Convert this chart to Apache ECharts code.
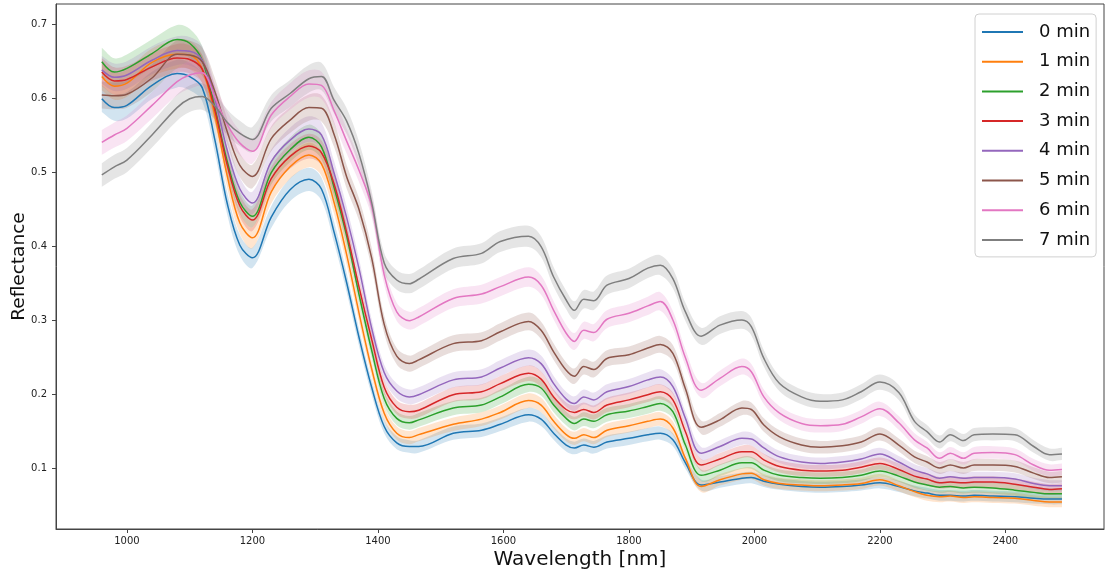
<!DOCTYPE html>
<html>
<head>
<meta charset="utf-8">
<script src="https://cdn.jsdelivr.net/npm/echarts@6/dist/echarts.min.js"></script>
<style>
  html, body { margin: 0; padding: 0; background: #fff; }
  #chart { width: 1107px; height: 574px; }
</style>
</head>
<body>
<div id="chart"></div>
<script>
// wavelengths (nm)
var wavelengths = [960, 980, 1000, 1040, 1080, 1100, 1120, 1140, 1160, 1180,
  1200, 1230, 1260, 1290, 1310, 1330, 1350, 1370, 1390, 1410,
  1430, 1450, 1465, 1520, 1565, 1595, 1640, 1660, 1680, 1700,
  1713, 1728, 1744, 1765, 1800, 1830, 1850, 1870, 1890, 1915,
  1945, 1980, 1995, 2015, 2040, 2075, 2105, 2140, 2170, 2200,
  2230, 2255, 2275, 2295, 2312, 2333, 2350, 2380, 2415, 2445,
  2470, 2490];

var names = ['0 min', '1 min', '2 min', '3 min', '4 min', '5 min', '6 min', '7 min'];
var colors = ['#1f77b4', '#ff7f0e', '#2ca02c', '#d62728', '#9467bd', '#8c564b', '#e377c2', '#7f7f7f'];

var min0 = [0.600, 0.588, 0.591, 0.618, 0.634, 0.630, 0.615, 0.545, 0.458, 0.402,
  0.385, 0.440, 0.477, 0.491, 0.478, 0.420, 0.352, 0.277, 0.210, 0.157,
  0.135, 0.130, 0.130, 0.148, 0.152, 0.160, 0.173, 0.167, 0.148, 0.132,
  0.128, 0.132, 0.129, 0.136, 0.141, 0.146, 0.148, 0.139, 0.108, 0.078,
  0.082, 0.087, 0.088, 0.083, 0.079, 0.076, 0.075, 0.076, 0.078, 0.081,
  0.076, 0.070, 0.067, 0.064, 0.064, 0.063, 0.064, 0.063, 0.062, 0.060,
  0.059, 0.059];
var min1 = [0.630, 0.617, 0.621, 0.649, 0.660, 0.659, 0.640, 0.578, 0.495, 0.432,
  0.412, 0.474, 0.508, 0.524, 0.512, 0.460, 0.390, 0.310, 0.235, 0.175,
  0.148, 0.142, 0.146, 0.160, 0.167, 0.176, 0.192, 0.186, 0.164, 0.146,
  0.141, 0.146, 0.142, 0.152, 0.158, 0.164, 0.167, 0.155, 0.114, 0.076,
  0.085, 0.093, 0.094, 0.085, 0.080, 0.078, 0.077, 0.078, 0.080, 0.085,
  0.077, 0.069, 0.064, 0.062, 0.063, 0.061, 0.062, 0.061, 0.060, 0.057,
  0.055, 0.055];
var min2 = [0.650, 0.636, 0.641, 0.661, 0.680, 0.675, 0.652, 0.588, 0.515, 0.460,
  0.441, 0.500, 0.531, 0.548, 0.535, 0.480, 0.415, 0.335, 0.260, 0.195,
  0.168, 0.162, 0.166, 0.182, 0.186, 0.197, 0.214, 0.209, 0.186, 0.168,
  0.161, 0.167, 0.164, 0.173, 0.178, 0.184, 0.188, 0.177, 0.132, 0.091,
  0.098, 0.108, 0.108, 0.098, 0.091, 0.088, 0.087, 0.088, 0.091, 0.097,
  0.090, 0.082, 0.078, 0.075, 0.076, 0.074, 0.075, 0.074, 0.071, 0.068,
  0.066, 0.066];
var min3 = [0.636, 0.624, 0.626, 0.643, 0.655, 0.653, 0.640, 0.585, 0.510, 0.455,
  0.436, 0.492, 0.522, 0.536, 0.527, 0.485, 0.420, 0.345, 0.275, 0.210,
  0.183, 0.177, 0.179, 0.200, 0.204, 0.215, 0.229, 0.221, 0.197, 0.180,
  0.176, 0.180, 0.176, 0.186, 0.193, 0.200, 0.204, 0.193, 0.150, 0.105,
  0.113, 0.123, 0.123, 0.112, 0.103, 0.098, 0.097, 0.098, 0.102, 0.107,
  0.099, 0.090, 0.086, 0.081, 0.082, 0.081, 0.082, 0.082, 0.079, 0.075,
  0.072, 0.073];
var min4 = [0.639, 0.629, 0.632, 0.652, 0.665, 0.664, 0.652, 0.600, 0.530, 0.478,
  0.459, 0.515, 0.544, 0.559, 0.551, 0.500, 0.440, 0.370, 0.290, 0.230,
  0.205, 0.197, 0.200, 0.220, 0.224, 0.236, 0.250, 0.242, 0.215, 0.194,
  0.188, 0.197, 0.193, 0.204, 0.211, 0.220, 0.224, 0.211, 0.168, 0.121,
  0.130, 0.141, 0.140, 0.128, 0.116, 0.109, 0.107, 0.109, 0.113, 0.120,
  0.109, 0.098, 0.093, 0.087, 0.089, 0.087, 0.088, 0.088, 0.086, 0.080,
  0.077, 0.077];
var min5 = [0.605, 0.604, 0.606, 0.628, 0.660, 0.659, 0.650, 0.610, 0.555, 0.510,
  0.495, 0.546, 0.571, 0.588, 0.587, 0.552, 0.495, 0.450, 0.385, 0.295,
  0.252, 0.242, 0.247, 0.269, 0.273, 0.285, 0.299, 0.287, 0.258, 0.233,
  0.225, 0.238, 0.234, 0.249, 0.254, 0.263, 0.268, 0.256, 0.208, 0.156,
  0.166, 0.182, 0.180, 0.159, 0.143, 0.132, 0.129, 0.131, 0.136, 0.147,
  0.132, 0.116, 0.109, 0.101, 0.105, 0.101, 0.105, 0.105, 0.103, 0.094,
  0.088, 0.089];
var min6 = [0.541, 0.551, 0.560, 0.591, 0.623, 0.632, 0.635, 0.602, 0.565, 0.540,
  0.529, 0.578, 0.603, 0.620, 0.618, 0.584, 0.543, 0.503, 0.455, 0.362,
  0.312, 0.300, 0.305, 0.330, 0.336, 0.346, 0.359, 0.348, 0.314, 0.283,
  0.272, 0.287, 0.284, 0.302, 0.310, 0.320, 0.326, 0.301, 0.250, 0.206,
  0.222, 0.238, 0.231, 0.197, 0.175, 0.161, 0.158, 0.160, 0.170, 0.181,
  0.162, 0.139, 0.128, 0.114, 0.121, 0.114, 0.121, 0.122, 0.119, 0.105,
  0.098, 0.099];
var min7 = [0.497, 0.508, 0.517, 0.551, 0.588, 0.600, 0.603, 0.590, 0.568, 0.553,
  0.545, 0.587, 0.607, 0.627, 0.630, 0.598, 0.570, 0.525, 0.460, 0.378,
  0.355, 0.350, 0.356, 0.384, 0.391, 0.407, 0.414, 0.400, 0.359, 0.328,
  0.314, 0.329, 0.327, 0.348, 0.357, 0.371, 0.375, 0.357, 0.312, 0.279,
  0.294, 0.301, 0.292, 0.249, 0.215, 0.197, 0.191, 0.193, 0.204, 0.217,
  0.203, 0.164, 0.150, 0.136, 0.146, 0.138, 0.146, 0.147, 0.146, 0.130,
  0.119, 0.120];

var allSeries = [min0, min1, min2, min3, min4, min5, min6, min7];

// half width of the shaded band: base + share of the value
var bandBase = 0.006;
var bandShare = 0.02;

var xTicks = [1000, 1200, 1400, 1600, 1800, 2000, 2200, 2400];
var yTicks = [0.1, 0.2, 0.3, 0.4, 0.5, 0.6, 0.7];

var font = 'DejaVu Sans';
var smoothing = 0.35;

var chart = echarts.init(document.getElementById('chart'));

// bezier path through pixel points, same idea as the line smoothing
function curvePath(pts, first) {
  var n = pts.length, d = (first ? 'M' : 'L') + pts[0][0] + ',' + pts[0][1];
  var outs = [], ins = [];
  for (var i = 0; i < n; i++) {
    var p = pts[i], prev = pts[i > 0 ? i - 1 : i], next = pts[i < n - 1 ? i + 1 : i];
    var vx = next[0] - prev[0], vy = next[1] - prev[1];
    var d0 = Math.hypot(p[0] - prev[0], p[1] - prev[1]);
    var d1 = Math.hypot(next[0] - p[0], next[1] - p[1]);
    var r = (d0 + d1) ? d1 / (d0 + d1) : 0.5;
    outs.push([p[0] + vx * smoothing * r, p[1] + vy * smoothing * r]);
    ins.push([p[0] - vx * smoothing * (1 - r), p[1] - vy * smoothing * (1 - r)]);
  }
  for (var k = 0; k < n - 1; k++) {
    d += 'C' + outs[k][0] + ',' + outs[k][1] + ' ' + ins[k + 1][0] + ',' + ins[k + 1][1] +
      ' ' + pts[k + 1][0] + ',' + pts[k + 1][1];
  }
  return d;
}

function bandRenderer(vals, color) {
  return function (params, api) {
    if (params.dataIndex !== 0) return;
    var upper = [], lower = [];
    vals.forEach(function (v, j) {
      var h = bandBase + bandShare * v;
      upper.push(api.coord([wavelengths[j], v + h]));
      lower.unshift(api.coord([wavelengths[j], v - h]));
    });
    return {
      type: 'path',
      shape: { pathData: curvePath(upper, true) + curvePath(lower, false) + 'Z' },
      style: { fill: color, opacity: 0.2 }
    };
  };
}

var series = [];
allSeries.forEach(function (vals, i) {
  series.push({
    type: 'custom', silent: true, z: 1,
    data: [[wavelengths[0], vals[0]]],
    renderItem: bandRenderer(vals, colors[i])
  });
});
allSeries.forEach(function (vals, i) {
  series.push({
    name: names[i], type: 'line', smooth: smoothing, symbol: 'none',
    data: vals.map(function (v, j) { return [wavelengths[j], v]; }),
    lineStyle: { color: colors[i], width: 1.5 },
    itemStyle: { color: colors[i] },
    z: 3
  });
});

var option = {
  animation: false,
  grid: {
    left: 56, right: 3, top: 4, bottom: 45,
    outerBoundsMode: 'none',
    show: true, borderColor: '#444', borderWidth: 1
  },
  legend: {
    data: names,
    orient: 'vertical',
    left: 975, top: 14,
    padding: [8, 6, 7, 7],
    itemWidth: 41, itemHeight: 2, itemGap: 9.7,
    icon: 'rect',
    backgroundColor: 'rgba(255,255,255,0.8)',
    borderColor: '#d0d0d0', borderWidth: 1, borderRadius: 4,
    textStyle: { fontFamily: font, fontSize: 18, color: '#111', lineHeight: 20, padding: [0, 0, 0, 11] }
  },
  xAxis: {
    type: 'value', min: 887, max: 2557,
    name: 'Wavelength [nm]', nameLocation: 'middle', nameGap: 21, nameMoveOverlap: false,
    nameTextStyle: { fontFamily: font, fontSize: 20, color: '#111' },
    axisLine: { show: true, onZero: false, lineStyle: { color: '#444', width: 1 } },
    axisTick: { show: true, length: 4, customValues: xTicks, lineStyle: { color: '#444' } },
    axisLabel: {
      customValues: xTicks, margin: 7, fontFamily: font, fontSize: 10, color: '#222',
      formatter: function (v) { return String(v); }
    },
    splitLine: { show: false }
  },
  yAxis: {
    type: 'value', min: 0.0185, max: 0.728,
    name: 'Reflectance', nameLocation: 'middle', nameGap: 27, nameMoveOverlap: false,
    nameTextStyle: { fontFamily: font, fontSize: 18.5, color: '#111' },
    axisLine: { show: true, onZero: false, lineStyle: { color: '#444', width: 1 } },
    axisTick: { show: true, length: 4, customValues: yTicks, lineStyle: { color: '#444' } },
    axisLabel: {
      customValues: yTicks, margin: 9, fontFamily: font, fontSize: 10, color: '#222',
      formatter: function (v) { return v.toFixed(1); }
    },
    splitLine: { show: false }
  },
  series: series
};

chart.setOption(option);
</script>
</body>
</html>
